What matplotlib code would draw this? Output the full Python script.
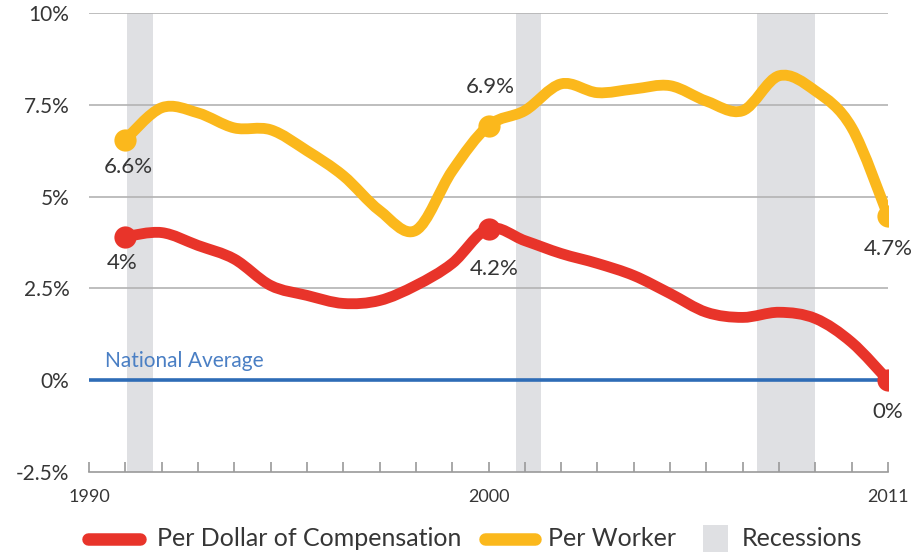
import numpy as np
import matplotlib
matplotlib.use("Agg")
import matplotlib.pyplot as plt
from matplotlib.lines import Line2D
from matplotlib.patches import Rectangle, PathPatch
from matplotlib.path import Path

plt.rcParams['font.family'] = ['Lato', 'DejaVu Sans']

years = np.arange(1990, 2012)
per_worker = [6.55, 7.42, 7.28, 6.87, 6.82, 6.25, 5.57, 4.62, 4.08, 5.70, 6.93,
              7.34, 8.07, 7.83, 7.93, 8.02, 7.60, 7.34, 8.29, 7.88, 6.88, 4.48]
per_dollar = [3.91, 4.02, 3.67, 3.30, 2.58, 2.31, 2.09, 2.17, 2.58, 3.18, 4.13,
              3.80, 3.45, 3.18, 2.85, 2.36, 1.85, 1.71, 1.85, 1.68, 1.03, 0.00]
recessions = [(1990.05, 1990.75), (2000.75, 2001.45), (2007.4, 2009.0)]
label_idx = [0, 10, 21]
worker_labels = ['6.6%', '6.9%', '4.7%']
dollar_labels = ['4%', '4.2%', '0%']
yticks = [-2.5, 0, 2.5, 5, 7.5, 10]
ytick_labels = ['-2.5%', '0%', '2.5%', '5%', '7.5%', '10%']

RED = '#E8342A'
YELLOW = '#FBB81C'
BLUE = '#2E6CB6'
GREY = '#DFE0E3'
TXT = '#363636'


def smooth_path(x, y):
    # catmull-rom through the points, drawn as cubic bezier segments
    x = np.asarray(x, float)
    y = np.asarray(y, float)
    pts = np.column_stack([x, y])
    verts = [pts[0]]
    codes = [Path.MOVETO]
    n = len(pts)
    for i in range(n - 1):
        p0 = pts[max(i - 1, 0)]
        p1 = pts[i]
        p2 = pts[i + 1]
        p3 = pts[min(i + 2, n - 1)]
        c1 = p1 + (p2 - p0) / 6.0
        c2 = p2 - (p3 - p1) / 6.0
        verts += [c1, c2, p2]
        codes += [Path.CURVE4] * 3
    return Path(verts, codes)


fig = plt.figure(figsize=(9.24, 5.52), dpi=100)
ax = fig.add_axes([89/924, 1-472/552, (888-89)/924, (472-13)/552])

for a, b in recessions:
    ax.axvspan(a, b, color=GREY, lw=0, zorder=0)

for y in [2.5, 5, 7.5, 10]:
    ax.axhline(y, color='#b3b3b3', lw=1.2, zorder=1)
ax.axhline(0, color=BLUE, lw=2.6, zorder=2)
ax.text(1989.45, 0.25, 'National Average', color='#4a7fc4', fontsize=15,
        va='bottom', ha='left')

for vals, col, z in [(per_worker, YELLOW, 3), (per_dollar, RED, 4)]:
    ax.add_patch(PathPatch(smooth_path(years, vals), fill=False, edgecolor=col,
                           lw=7.8, capstyle='round', joinstyle='round', zorder=z))
    ax.plot(years[label_idx], np.array(vals)[label_idx], 'o', color=col, ms=16,
            mec='none', zorder=z)

# value labels
w_off = [(2, -20), (1, 28), (0, -24)]
d_off = [(-2, -19), (4, -29), (0, -23)]
for i, lab, off in zip(label_idx, worker_labels, w_off):
    ax.annotate(lab, (years[i], per_worker[i]), xytext=off, textcoords='offset points',
                ha='center', va='center', fontsize=16, color=TXT)
for i, lab, off in zip(label_idx, dollar_labels, d_off):
    ax.annotate(lab, (years[i], per_dollar[i]), xytext=off, textcoords='offset points',
                ha='center', va='center', fontsize=16, color=TXT)

ax.set_xlim(1989, 2011)
ax.set_ylim(-2.5, 10)
ax.set_yticks(yticks)
ax.set_yticklabels(ytick_labels)
ax.set_xticks([1989, 2000, 2011])
ax.set_xticklabels(['1990', '2000', '2011'])
ax.set_xticks(np.arange(1989, 2012), minor=True)
ax.tick_params(axis='y', length=0, pad=14, labelsize=15, labelcolor=TXT)
ax.tick_params(axis='x', which='both', direction='in', length=7, width=1.2,
               color='#9a9a9a', pad=12, labelsize=13, labelcolor=TXT)
for s in ['top', 'right', 'left']:
    ax.spines[s].set_visible(False)
ax.spines['bottom'].set_color('#9a9a9a')
ax.spines['bottom'].set_linewidth(1.2)

# legend
W, H = 924, 552
ly = 1 - 539/H
fig.add_artist(Line2D([88/W, 140/W], [ly, ly], transform=fig.transFigure,
                      color=RED, lw=9, solid_capstyle='round'))
fig.text(157/W, ly, 'Per Dollar of Compensation', fontsize=18, color=TXT, va='center')
fig.add_artist(Line2D([485/W, 535/W], [ly, ly], transform=fig.transFigure,
                      color=YELLOW, lw=9, solid_capstyle='round'))
fig.text(548/W, ly, 'Per Worker', fontsize=18, color=TXT, va='center')
fig.add_artist(Rectangle((703/W, 0), 25/W, 27/H, transform=fig.transFigure,
                         color=GREY, lw=0))
fig.text(742/W, ly, 'Recessions', fontsize=18, color=TXT, va='center')

fig.savefig('out.png', dpi=100)
